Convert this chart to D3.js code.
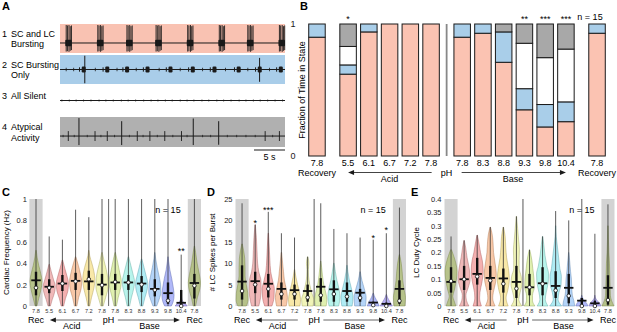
<!DOCTYPE html>
<html><head><meta charset="utf-8">
<script src="https://cdn.jsdelivr.net/npm/d3@7"></script>
<style>body{margin:0;background:#fff}svg{display:block}text{font-family:"Liberation Sans",Arial,Helvetica,sans-serif}</style>
</head><body><svg id="c" width="617" height="332"></svg>
<script>
// ===================== DATA =====================
// Panel A traces (times in seconds, amplitudes relative -1..1 of each strip)
const traceDuration = 36.3;
const t1Base = -0.31;
const t1BurstTimes = [1.0, 6.1, 10.8, 15.5, 20.6, 25.7, 30.3, 35.4];
const t1SpikeOffsets = [0, 0.2, 0.45, 0.65, 0.85];
const t1SpikeHi = [0.93, 0.9, 0.93, 0.85, 0.9];
const t1SpikeLo = [-0.9, -0.88, -0.92, -0.85, -0.8];
const t2Base = 0;
const t2BurstTimes = [3.6, 7.4, 10.6, 13.9, 17.6, 21.2, 24.7, 28.6, 32.0, 35.4];
const t2BigSpikes = [4.0, 32.2];
const t2BigHi = [0.95, 0.8];
const t2BigLo = [-0.95, -0.85];
const t2SmallSpikes = [1.0, 2.2, 5.7, 9.2, 12.3, 16.0, 19.4, 23.0, 26.7, 30.3, 33.8];
const t3Ticks = [0.3,1.5,2.6,3.8,5.0,6.3,7.4,8.6,9.9,11.0,12.2,13.5,14.7,15.8,17.0,18.1,19.4,20.5,21.6,22.9,24.0,25.3,26.4,27.6,28.9,30.0,31.2,32.3,33.5,34.7,35.9];
const t4Base = -0.27;
const t4Big = [3.06, 9.95, 21.5, 25.6];
const t4BigHi = [0.93, 0.72, 0.9, 0.72];
const t4BigLo = [-0.87, -0.87, -0.87, -0.85];
const t4Med = [1.34, 5.65, 7.63, 12.47, 14.5, 16.9, 19.6, 33.1, 35.4];
const t4Small = [0.5, 2.3, 4.4, 6.6, 8.8, 11.2, 13.4, 15.7, 18.2, 20.5, 23.0, 24.3, 27.0, 28.5, 30.0, 31.5, 34.3];
const rowLabels = [['1','SC and LC','Bursting'],['2','SC Bursting','Only'],['3','All Silent',''],['4','Atypical','Activity']];

// Panel B
const bCategories = ['7.8','5.5','6.1','6.7','7.2','7.8','7.8','8.3','8.8','9.3','9.8','10.4','7.8'];
const bGroups = ['Rec','Acid','Acid','Acid','Acid','Acid','Base','Base','Base','Base','Base','Base','Rec'];
const bBursting = [0.90, 0.62, 0.94, 1, 1, 1, 0.90, 0.93, 0.71, 0.35, 0.22, 0.26, 0.93];
const bSCOnly   = [0.10, 0.07, 0.06, 0, 0, 0, 0.10, 0.07, 0.23, 0.16, 0.17, 0.15, 0.07];
const bSilent   = [0, 0.14, 0, 0, 0, 0, 0, 0, 0, 0.344, 0.355, 0.40, 0];
const bAtypical = [0, 0.17, 0, 0, 0, 0, 0, 0, 0.06, 0.146, 0.255, 0.19, 0];
const bStars = ['', '*', '', '', '', '', '', '', '', '**', '***', '***', ''];

// Panels C-E
const vCategories = ['7.8','5.5','6.1','6.7','7.2','7.8','7.8','8.3','8.8','9.3','9.8','10.4','7.8'];
const cfShapes = [
 [[0,0.15],[0.07,0.45],[0.15,0.8],[0.23,1],[0.3,0.8],[0.38,0.45],[0.45,0.2],[0.52,0.04]],
 [[0,0.2],[0.06,0.5],[0.13,0.9],[0.18,1],[0.25,0.7],[0.32,0.35],[0.39,0.04]],
 [[0,0.2],[0.07,0.5],[0.14,0.9],[0.21,1],[0.28,0.75],[0.35,0.4],[0.43,0.04]],
 [[0,0.2],[0.08,0.5],[0.16,0.9],[0.23,1],[0.3,0.8],[0.38,0.45],[0.46,0.04]],
 [[0,0.15],[0.08,0.45],[0.17,0.85],[0.25,1],[0.32,0.85],[0.4,0.5],[0.47,0.15],[0.52,0.03]],
 [[0,0.2],[0.08,0.6],[0.18,1],[0.26,0.95],[0.34,0.7],[0.42,0.35],[0.5,0.04]],
 [[0,0.2],[0.08,0.5],[0.17,0.9],[0.23,1],[0.31,0.75],[0.41,0.4],[0.5,0.04]],
 [[0,0.2],[0.08,0.5],[0.17,0.9],[0.23,1],[0.3,0.75],[0.38,0.4],[0.46,0.04]],
 [[0,0.2],[0.08,0.55],[0.15,0.9],[0.21,1],[0.28,0.75],[0.36,0.4],[0.44,0.04]],
 [[0,0.3],[0.06,0.7],[0.13,1],[0.2,0.95],[0.28,0.7],[0.36,0.4],[0.44,0.15],[0.5,0.03]],
 [[0,0.55],[0.04,0.85],[0.1,1],[0.18,0.85],[0.26,0.6],[0.34,0.3],[0.42,0.1],[0.46,0.02]],
 [[0,1],[0.02,0.7],[0.04,0.3],[0.07,0.08],[0.1,0.02]],
 [[0,0.2],[0.08,0.5],[0.16,0.9],[0.22,1],[0.3,0.8],[0.4,0.45],[0.5,0.2],[0.56,0.03]]
];
const cfMax    = [1, 0.65, 0.62, 0.9, 0.83, 1, 1, 1, 1, 1, 1, 0.48, 1];
const cfQ1     = [0.10, 0.12, 0.14, 0.15, 0.15, 0.10, 0.15, 0.15, 0.13, 0.09, 0.02, 0.0, 0.07];
const cfQ3     = [0.32, 0.25, 0.29, 0.31, 0.33, 0.30, 0.30, 0.29, 0.28, 0.25, 0.22, 0.15, 0.30];
const cfMean   = [0.24, 0.18, 0.21, 0.235, 0.23, 0.20, 0.22, 0.22, 0.21, 0.16, 0.12, 0.03, 0.215];
const cfMedian = [0.17, 0.17, 0.21, 0.23, 0.25, 0.195, 0.225, 0.22, 0.20, 0.15, 0.05, 0.0, 0.19];
const cfStars  = ['', '', '', '', '', '', '', '', '', '', '', '**', ''];
const cfStarV  = [0, 0, 0, 0, 0, 0, 0, 0, 0, 0, 0, 0.53, 0];

const lcShapes = [
 [[0,0.7],[1.5,1],[3,0.95],[5,0.7],[7,0.5],[9,0.5],[11,0.45],[13,0.25],[14.5,0.04]],
 [[0,0.6],[2,0.9],[4,1],[6,0.95],[8,0.6],[10,0.4],[13,0.3],[16,0.2],[19,0.03]],
 [[0,0.6],[2,0.95],[4,1],[6,0.7],[8,0.4],[11,0.25],[14,0.15],[17,0.04]],
 [[0,0.8],[2,1],[4,0.8],[6,0.5],[8,0.35],[10,0.2],[12.5,0.04]],
 [[0,0.9],[1.5,1],[3,0.85],[5,0.5],[7,0.2],[8.5,0.04]],
 [[0,0.9],[1.5,1],[3,0.7],[5,0.35],[7,0.15],[8.5,0.12],[10,0.2],[11.5,0.04]],
 [[0,0.9],[1.5,1],[3,0.85],[5,0.5],[7,0.3],[9,0.15],[10.5,0.03]],
 [[0,0.8],[2,1],[4,0.85],[6,0.5],[8,0.25],[10,0.04]],
 [[0,0.85],[2,1],[4,0.75],[6,0.4],[8,0.15],[9.5,0.03]],
 [[0,0.9],[2,1],[4,0.7],[6,0.3],[8,0.04]],
 [[0,1],[1,0.7],[2,0.3],[3,0.04]],
 [[0,1],[1,0.6],[2,0.2],[2.7,0.03]],
 [[0,0.9],[2,1],[4,0.75],[6,0.55],[8,0.45],[10,0.3],[12,0.04]]
];
const lcMax    = [24, 19, 22, 17, 16, 11.5, 24, 18, 17, 16, 15.5, 17, 23];
const lcQ1     = [1.5, 3.0, 2.0, 1.5, 1.5, 1.0, 1.0, 1.0, 1.0, 1.0, 0, 0, 0.5];
const lcQ3     = [9.5, 8.0, 7.5, 5.5, 5.0, 5.0, 6.5, 6.0, 5.5, 4.0, 1.0, 0.8, 6.0];
const lcMean   = [5.7, 5.8, 5.2, 4.0, 3.7, 3.5, 4.5, 3.9, 3.5, 3.1, 0.8, 0.5, 4.0];
const lcMedian = [3.5, 5.0, 4.0, 2.8, 2.8, 2.0, 2.5, 2.8, 2.2, 1.9, 0.2, 0, 1.2];
const lcStars  = ['', '*', '***', '', '', '', '', '', '', '', '*', '*', ''];
const lcStarV  = [0, 19.9, 22.8, 0, 0, 0, 0, 0, 0, 0, 16.4, 18.2, 0];

const dcShapes = [
 [[0,0.8],[0.02,0.5],[0.035,0.3],[0.06,0.55],[0.1,0.9],[0.13,1],[0.16,0.8],[0.19,0.4],[0.21,0.08]],
 [[0,0.8],[0.02,0.4],[0.04,0.3],[0.07,0.7],[0.1,1],[0.14,0.85],[0.18,0.5],[0.22,0.25],[0.245,0.03]],
 [[0,0.7],[0.03,0.4],[0.05,0.45],[0.09,0.8],[0.13,1],[0.17,0.85],[0.2,0.55],[0.24,0.25],[0.265,0.03]],
 [[0,0.8],[0.03,0.4],[0.05,0.5],[0.09,0.9],[0.12,1],[0.16,0.8],[0.2,0.55],[0.24,0.45],[0.27,0.3],[0.295,0.03]],
 [[0,0.8],[0.03,0.45],[0.06,0.75],[0.1,1],[0.14,0.85],[0.18,0.55],[0.22,0.4],[0.26,0.3],[0.295,0.03]],
 [[0,0.9],[0.025,0.4],[0.05,0.6],[0.08,0.9],[0.11,0.8],[0.14,0.45],[0.17,0.45],[0.21,0.5],[0.25,0.35],[0.29,0.2],[0.335,0.03]],
 [[0,0.9],[0.02,0.5],[0.04,0.5],[0.07,0.8],[0.1,0.75],[0.14,0.55],[0.17,0.4],[0.21,0.05]],
 [[0,0.9],[0.025,0.45],[0.05,0.6],[0.09,0.95],[0.12,1],[0.15,0.7],[0.19,0.4],[0.23,0.2],[0.26,0.03]],
 [[0,1],[0.025,0.4],[0.05,0.55],[0.08,0.9],[0.11,0.95],[0.14,0.7],[0.18,0.5],[0.22,0.3],[0.26,0.1],[0.3,0.03]],
 [[0,1],[0.02,0.85],[0.04,0.6],[0.07,0.5],[0.1,0.45],[0.13,0.3],[0.17,0.15],[0.2,0.03]],
 [[0,1],[0.01,0.8],[0.02,0.4],[0.03,0.15],[0.04,0.03]],
 [[0,1],[0.01,0.8],[0.02,0.4],[0.03,0.1],[0.04,0.02]],
 [[0,1],[0.02,0.6],[0.04,0.4],[0.08,0.35],[0.12,0.3],[0.16,0.25],[0.2,0.15],[0.25,0.08],[0.3,0.02]]
];
const dcMax    = [0.26, 0.245, 0.265, 0.295, 0.295, 0.335, 0.21, 0.26, 0.355, 0.32, 0.4, 0.27, 0.38];
const dcQ1     = [0.05, 0.06, 0.08, 0.06, 0.05, 0.03, 0.04, 0.04, 0.03, 0.01, 0, 0, 0.005];
const dcQ3     = [0.145, 0.15, 0.18, 0.15, 0.14, 0.15, 0.12, 0.145, 0.13, 0.12, 0.03, 0.02, 0.115];
const dcMean   = [0.09, 0.10, 0.12, 0.105, 0.103, 0.09, 0.07, 0.085, 0.075, 0.068, 0.02, 0.01, 0.068];
const dcMedian = [0.093, 0.10, 0.11, 0.095, 0.083, 0.065, 0.07, 0.083, 0.058, 0.038, 0, 0, 0.022];

const cfTicks = [0, 0.2, 0.4, 0.6, 0.8, 1];
const lcTicks = [0, 5, 10, 15, 20, 25];
const dcTicks = [0, 0.05, 0.1, 0.15, 0.2, 0.25, 0.3, 0.35, 0.4];

// ===================== STYLE =====================
const violinColors = ['#a3b75a','#e68989','#ed7b7b','#f3a36e','#f3d96e','#e6ed89','#cbe67b','#89eddf','#7bdfed','#82b7f3','#7b89f3','#897bed','#a3b75a'];
const svg = d3.select('#c');
const INK = '#1a1a1a';

// ===================== PANEL A =====================
(function(){
  const g = svg.append('g');
  g.append('text').attr('x',2).attr('y',10).attr('font-size',11).attr('font-weight','bold').text('A');
  const tx = d3.scaleLinear().domain([0, traceDuration]).range([60, 285]);
  const rows = [{top:24,bottom:53,fill:'#f9c2b2'},{top:55,bottom:84,fill:'#a9cde9'},{top:86,bottom:115,fill:'none'},{top:117,bottom:147,fill:'#b0b0b0'}];
  const ys = rows.map(r => d3.scaleLinear().domain([-1,1]).range([r.bottom, r.top]));
  rows.forEach(r => { if (r.fill !== 'none') g.append('rect').attr('x',tx(0)).attr('y',r.top).attr('width',tx(traceDuration)-tx(0)).attr('height',r.bottom-r.top).attr('fill',r.fill); });
  const baseLine = (y, b) => g.append('line').attr('x1',tx(0)).attr('x2',tx(traceDuration)).attr('y1',y(b)).attr('y2',y(b)).attr('stroke',INK).attr('stroke-width',1);
  const spike = (t, y, lo, hi, w) => g.append('line').attr('x1',tx(t)).attr('x2',tx(t)).attr('y1',y(lo)).attr('y2',y(hi)).attr('stroke',INK).attr('stroke-width',w||0.8);
  // trace 1
  baseLine(ys[0], t1Base);
  t1BurstTimes.forEach(t => {
    g.append('rect').attr('x',tx(t-0.15)).attr('width',tx(t+0.9)-tx(t-0.15)).attr('y',ys[0](t1Base+0.22)).attr('height',ys[0](t1Base-0.22)-ys[0](t1Base+0.22)).attr('fill',INK).attr('rx',1);
    t1SpikeOffsets.forEach((o,k) => spike(t+o, ys[0], t1SpikeLo[k], t1SpikeHi[k], 0.9));
  });
  // trace 2
  baseLine(ys[1], t2Base);
  t2BurstTimes.forEach(t => {
    g.append('rect').attr('x',tx(t-0.1)).attr('width',tx(t+0.55)-tx(t-0.1)).attr('y',ys[1](t2Base+0.2)).attr('height',ys[1](t2Base-0.2)-ys[1](t2Base+0.2)).attr('fill',INK).attr('rx',1.2);
    spike(t-0.45, ys[1], -0.15, 0.15, 1);
  });
  t2SmallSpikes.forEach(t => spike(t, ys[1], -0.12, 0.12));
  t2BigSpikes.forEach((t,k) => spike(t, ys[1], t2BigLo[k], t2BigHi[k], 1));
  // trace 3
  baseLine(ys[2], 0);
  t3Ticks.forEach(t => spike(t, ys[2], -0.07, 0.07, 0.7));
  // trace 4
  baseLine(ys[3], t4Base);
  t4Small.forEach(t => spike(t, ys[3], t4Base-0.08, t4Base+0.08, 0.7));
  t4Med.forEach(t => spike(t, ys[3], t4Base-0.33, t4Base+0.33, 0.9));
  t4Big.forEach((t,k) => spike(t, ys[3], t4BigLo[k], t4BigHi[k], 1));
  // labels
  const base = [36.5, 67.5, 99, 130];
  rowLabels.forEach((l,i) => {
    g.append('text').attr('x',2).attr('y',base[i]).attr('font-size',9).text(l[0]);
    g.append('text').attr('x',11).attr('y',base[i]).attr('font-size',9).text(l[1]);
    if (l[2]) g.append('text').attr('x',11).attr('y',base[i]+10.5).attr('font-size',9).text(l[2]);
  });
  // scale bar
  g.append('line').attr('x1',tx(traceDuration-5)).attr('x2',tx(traceDuration)).attr('y1',150).attr('y2',150).attr('stroke',INK).attr('stroke-width',1);
  g.append('text').attr('x',(tx(traceDuration-5)+tx(traceDuration))/2).attr('y',159.5).attr('text-anchor','middle').attr('font-size',9).text('5 s');
})();

// arrow helper
function arrow(g, x1, x2, y, col){
  const dir = Math.sign(x2 - x1);
  g.append('line').attr('x1',x1).attr('x2',x2 - dir*5).attr('y1',y).attr('y2',y).attr('stroke',col).attr('stroke-width',1);
  g.append('path').attr('d',`M${x2},${y}L${x2-dir*6},${y-2.5}L${x2-dir*6},${y+2.5}Z`).attr('fill',INK);
}

// ===================== PANEL B =====================
(function(){
  const g = svg.append('g');
  g.append('text').attr('x',300).attr('y',10).attr('font-size',11).attr('font-weight','bold').text('B');
  let changes = 0;
  const pos = bCategories.map((c,i) => { if (i>0 && bGroups[i]!==bGroups[i-1]) changes++; return i + 0.5*changes; });
  const x = d3.scaleLinear().domain([-0.5, 14]).range([306.6, 607.4]);
  const y = d3.scaleLinear().domain([0, 1]).range([156, 24]);
  const keys = ['bursting','scOnly','silent','atypical'];
  const fills = {bursting:'#fbc3b2', scOnly:'#a9cee9', silent:'#ffffff', atypical:'#a8a8a8'};
  const table = bCategories.map((c,i) => ({i, bursting:bBursting[i], scOnly:bSCOnly[i], silent:bSilent[i], atypical:bAtypical[i]}));
  const series = d3.stack().keys(keys)(table);
  const bw = 16.5;
  series.forEach(s => {
    g.selectAll(null).data(s.filter(d => d[1]-d[0] > 0.0001)).enter().append('rect')
      .attr('x', d => x(pos[d.data.i]) - bw/2).attr('width', bw)
      .attr('y', d => y(d[1])).attr('height', d => y(d[0]) - y(d[1]))
      .attr('fill', fills[s.key]).attr('stroke', INK).attr('stroke-width', 1);
  });
  // separator
  const sepX = x((pos[5]+pos[6])/2);
  g.append('line').attr('x1',sepX).attr('x2',sepX).attr('y1',y(1)).attr('y2',y(0)).attr('stroke','#888').attr('stroke-width',1.8);
  // y axis
  const ax = g.append('g').attr('transform','translate(295.5,0)').call(d3.axisLeft(y).tickValues([0,1]).tickSize(0).tickPadding(0).tickFormat(d3.format('d')));
  ax.select('.domain').remove();
  ax.selectAll('text').attr('font-size',9).attr('fill',INK).attr('font-family','"Liberation Sans",Arial,sans-serif');
  g.append('text').attr('transform',`translate(301.5,${(y(0)+y(1))/2}) rotate(-90)`).attr('dy','0.35em').attr('text-anchor','middle').attr('font-size',9).text('Fraction of Time in State');
  // x labels
  bCategories.forEach((c,i) => g.append('text').attr('x',x(pos[i])).attr('y',166).attr('text-anchor','middle').attr('font-size',9).text(c));
  bStars.forEach((s,i) => { if (s) g.append('text').attr('x',x(pos[i])).attr('y',y(1.053)+5).attr('text-anchor','middle').attr('font-size',9).text(s); });
  g.append('text').attr('x',590).attr('y',20).attr('text-anchor','middle').attr('font-size',9).text('n = 15');
  g.append('text').attr('x',x(pos[0])).attr('y',175.5).attr('text-anchor','middle').attr('font-size',9).text('Recovery');
  g.append('text').attr('x',x(pos[12])).attr('y',175.5).attr('text-anchor','middle').attr('font-size',9).text('Recovery');
  g.append('text').attr('x',sepX).attr('y',175.5).attr('text-anchor','middle').attr('font-size',9).text('pH');
  arrow(g, sepX-15, x(pos[1]), 172.5, '#444');
  arrow(g, sepX+15, x(pos[11]), 172.5, '#444');
  g.append('text').attr('x',x(pos[3])).attr('y',182).attr('text-anchor','middle').attr('font-size',9).text('Acid');
  g.append('text').attr('x',x(pos[8]+0.45)).attr('y',182).attr('text-anchor','middle').attr('font-size',9).text('Base');
})();

// ===================== VIOLIN PANELS =====================
function violinPanel(cfg){
  const g = svg.append('g');
  const cell = (cfg.x1 - cfg.x0) / vCategories.length;
  const band = d3.scaleBand().domain(d3.range(vCategories.length)).range([cfg.x0, cfg.x1]).padding(0);
  const cx = i => band(i) + cell/2;
  const u = v => cfg.x0 + v*cell;
  const y = d3.scaleLinear().domain(cfg.domain).range([306, 199]);
  const top = cfg.domain[1];
  g.append('text').attr('x',cfg.labelX).attr('y',195.5).attr('font-size',11).attr('font-weight','bold').text(cfg.letter);
  // gray bands
  [0, vCategories.length-1].forEach(i => g.append('rect').attr('x',band(i)).attr('width',cell).attr('y',y(top)).attr('height',y(0)-y(top)).attr('fill','#d3d3d3'));
  // separator
  g.append('line').attr('x1',u(6)).attr('x2',u(6)).attr('y1',y(top)).attr('y2',y(0)).attr('stroke',cfg.sepColor).attr('stroke-width',cfg.sepWidth);
  const hw = cell*0.46;
  vCategories.forEach((c,i) => {
    const shape = cfg.shapes[i];
    const col = d3.color(violinColors[i]);
    const area = d3.area().curve(d3.curveMonotoneY)
      .y(d => y(d[0])).x0(d => cx(i) - d[1]*hw).x1(d => cx(i) + d[1]*hw);
    g.append('path').attr('d', area(shape)).attr('fill', col.formatHex()).attr('fill-opacity',0.6)
      .attr('stroke', col.darker(1).formatHex()).attr('stroke-opacity',0.55).attr('stroke-width',0.8);
    // whisker
    g.append('line').attr('x1',cx(i)).attr('x2',cx(i)).attr('y1',y(shape[0][0])).attr('y2',y(Math.min(cfg.max[i], top))).attr('stroke','#333').attr('stroke-width',0.8);
    // IQR
    g.append('line').attr('x1',cx(i)).attr('x2',cx(i)).attr('y1',y(cfg.q1[i])).attr('y2',y(cfg.q3[i])).attr('stroke','#111').attr('stroke-width',2.4);
    // mean
    g.append('line').attr('x1',cx(i)-cell*0.36).attr('x2',cx(i)+cell*0.36).attr('y1',y(cfg.mean[i])).attr('y2',y(cfg.mean[i])).attr('stroke','#111').attr('stroke-width',1.8);
    // median
    g.append('circle').attr('cx',cx(i)).attr('cy',y(cfg.median[i])).attr('r',1.8).attr('fill','#fff').attr('stroke','#111').attr('stroke-width',0.8);
    if (cfg.stars && cfg.stars[i]) g.append('text').attr('x',cx(i)).attr('y',y(cfg.starV[i])+5).attr('text-anchor','middle').attr('font-size',9).text(cfg.stars[i]);
    g.append('text').attr('x',cx(i)).attr('y',313).attr('text-anchor','middle').attr('font-size',5.6).attr('fill','#333').text(c);
  });
  // y axis
  const ax = g.append('g').attr('transform',`translate(${cfg.tickX},0)`).call(d3.axisLeft(y).tickValues(cfg.ticks).tickSize(0).tickPadding(0).tickFormat(d3.format('~g')));
  ax.select('.domain').remove();
  ax.selectAll('text').attr('font-size',7.5).attr('fill',INK).attr('font-family','"Liberation Sans",Arial,sans-serif');
  g.append('text').attr('transform',`translate(${cfg.ylabX},${(y(0)+y(top))/2}) rotate(-90)`).attr('dy','0.35em').attr('text-anchor','middle').attr('font-size',8).text(cfg.ylabel);
  g.append('text').attr('x',u(10.5)).attr('y',212.5).attr('text-anchor','middle').attr('font-size',9).text('n = 15');
  // x labels
  g.append('text').attr('x',u(0.5)).attr('y',323).attr('text-anchor','middle').attr('font-size',9).text('Rec');
  g.append('text').attr('x',u(12.5)).attr('y',323).attr('text-anchor','middle').attr('font-size',9).text('Rec');
  g.append('text').attr('x',u(6)).attr('y',323).attr('text-anchor','middle').attr('font-size',9).text('pH');
  arrow(g, u(4.75), u(1.55), 320, '#666');
  arrow(g, u(6.7), u(11.4), 320, '#666');
  g.append('text').attr('x',u(3.2)).attr('y',329).attr('text-anchor','middle').attr('font-size',9).text('Acid');
  g.append('text').attr('x',u(9.1)).attr('y',329).attr('text-anchor','middle').attr('font-size',9).text('Base');
}

violinPanel({letter:'C', labelX:2, x0:29.4, x1:201, domain:[0,1], ticks:cfTicks, tickX:27, ylabX:6, ylabel:'Cardiac Frequency (Hz)',
  shapes:cfShapes, max:cfMax, q1:cfQ1, q3:cfQ3, mean:cfMean, median:cfMedian, stars:cfStars, starV:cfStarV, sepColor:'#555', sepWidth:0.9});
violinPanel({letter:'D', labelX:207, x0:235.5, x1:406, domain:[0,25], ticks:lcTicks, tickX:232.5, ylabX:212, ylabel:'# LC Spikes per Burst',
  shapes:lcShapes, max:lcMax, q1:lcQ1, q3:lcQ3, mean:lcMean, median:lcMedian, stars:lcStars, starV:lcStarV, sepColor:'#999', sepWidth:1.6});
violinPanel({letter:'E', labelX:411, x0:444.5, x1:614.5, domain:[0,0.4], ticks:dcTicks, tickX:441.5, ylabX:416, ylabel:'LC Duty Cycle',
  shapes:dcShapes, max:dcMax, q1:dcQ1, q3:dcQ3, mean:dcMean, median:dcMedian, stars:null, starV:null, sepColor:'#444', sepWidth:0.9});
</script></body></html>
